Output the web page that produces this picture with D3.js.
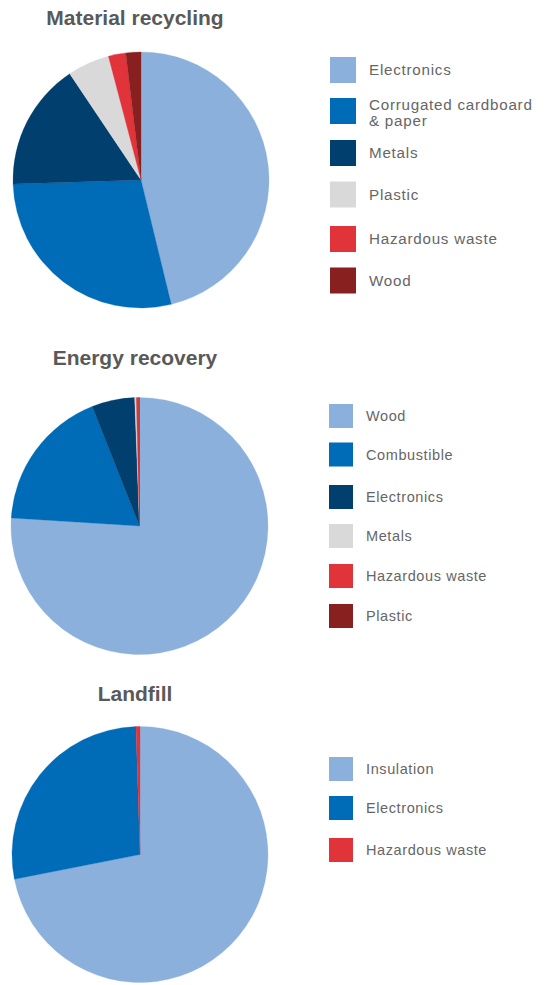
<!DOCTYPE html>
<html>
<head>
<meta charset="utf-8">
<script src="https://cdn.jsdelivr.net/npm/d3@7"></script>
<style>
  html, body { margin: 0; padding: 0; background: #fff; }
  svg { display: block; }
</style>
</head>
<body>
<svg id="chart" width="550" height="985"></svg>
<script>
// Waste streams by treatment route (share of each stream, %)
const recyclingCategories = ["Electronics", "Corrugated cardboard\n& paper", "Metals", "Plastic", "Hazardous waste", "Wood"];
const recyclingValues = [46.2, 28.3, 16.1, 5.3, 2.2, 1.9];

const energyCategories = ["Wood", "Combustible", "Electronics", "Metals", "Hazardous waste", "Plastic"];
const energyValues = [76.0, 18.0, 5.4, 0.2, 0.3, 0.1];

const landfillCategories = ["Insulation", "Electronics", "Hazardous waste"];
const landfillValues = [71.9, 27.6, 0.5];

const palette = ["#8cb0dc", "#006bb6", "#003f6e", "#d9d9d9", "#e0333a", "#88201f"];
const landfillPalette = ["#8cb0dc", "#006bb6", "#e0333a"];

const panels = [
  { title: "Material recycling", cats: recyclingCategories, vals: recyclingValues, colors: palette,
    cx: 141, cy: 180, r: 128, titleY: 25,
    legend: { x: 330, size: 26, font: 15.2, spacing: 0.75, textX: 369, tops: [57, 98, 140, 181.5, 226, 267.5] } },
  { title: "Energy recovery", cats: energyCategories, vals: energyValues, colors: palette,
    cx: 139.5, cy: 526, r: 128.5, titleY: 365,
    legend: { x: 329, size: 24, font: 14.5, spacing: 0.6, textX: 366, tops: [404, 442.5, 485, 524, 564, 604] } },
  { title: "Landfill", cats: landfillCategories, vals: landfillValues, colors: landfillPalette,
    cx: 140, cy: 854.5, r: 128, titleY: 700.5,
    legend: { x: 329, size: 24, font: 14.5, spacing: 0.6, textX: 366, tops: [757, 796, 838] } }
];

const svg = d3.select("#chart");
const pie = d3.pie().sort(null).value(d => d.value);

panels.forEach(p => {
  const data = p.cats.map((c, i) => ({ label: c, value: p.vals[i] }));
  const color = d3.scaleOrdinal().domain(p.cats).range(p.colors);
  const arc = d3.arc().innerRadius(0).outerRadius(p.r);

  svg.append("text")
    .attr("x", 135)
    .attr("y", p.titleY)
    .attr("text-anchor", "middle")
    .attr("font-family", "'Liberation Sans', Arial, sans-serif")
    .attr("font-weight", "bold")
    .attr("font-size", 21)
    .attr("fill", "#595959")
    .text(p.title);

  const g = svg.append("g").attr("transform", `translate(${p.cx},${p.cy})`);
  g.selectAll("path")
    .data(pie(data))
    .join("path")
    .attr("d", arc)
    .attr("fill", d => color(d.data.label))
    .attr("stroke", d => color(d.data.label))
    .attr("stroke-width", 0.3);

  const L = p.legend;
  const items = svg.append("g").selectAll("g.item")
    .data(data)
    .join("g")
    .attr("class", "item")
    .attr("transform", (d, i) => `translate(0,${L.tops[i]})`);

  items.append("rect")
    .attr("x", L.x)
    .attr("y", 0)
    .attr("width", L.size)
    .attr("height", L.size)
    .attr("fill", d => color(d.label));

  // Legend labels; a "\n" in a category name breaks it onto a second line
  items.append("text")
    .attr("font-family", "'Liberation Sans', Arial, sans-serif")
    .attr("font-size", L.font)
    .attr("letter-spacing", L.spacing)
    .attr("fill", "#666666")
    .each(function (d) {
      const lines = d.label.split("\n");
      const t = d3.select(this);
      lines.forEach((ln, k) => {
        t.append("tspan")
          .attr("x", L.textX)
          .attr("y", lines.length > 1 ? 11.5 + k * 16 : L.size / 2 + L.font * 0.36)
          .text(ln);
      });
    });
});
</script>
</body>
</html>
